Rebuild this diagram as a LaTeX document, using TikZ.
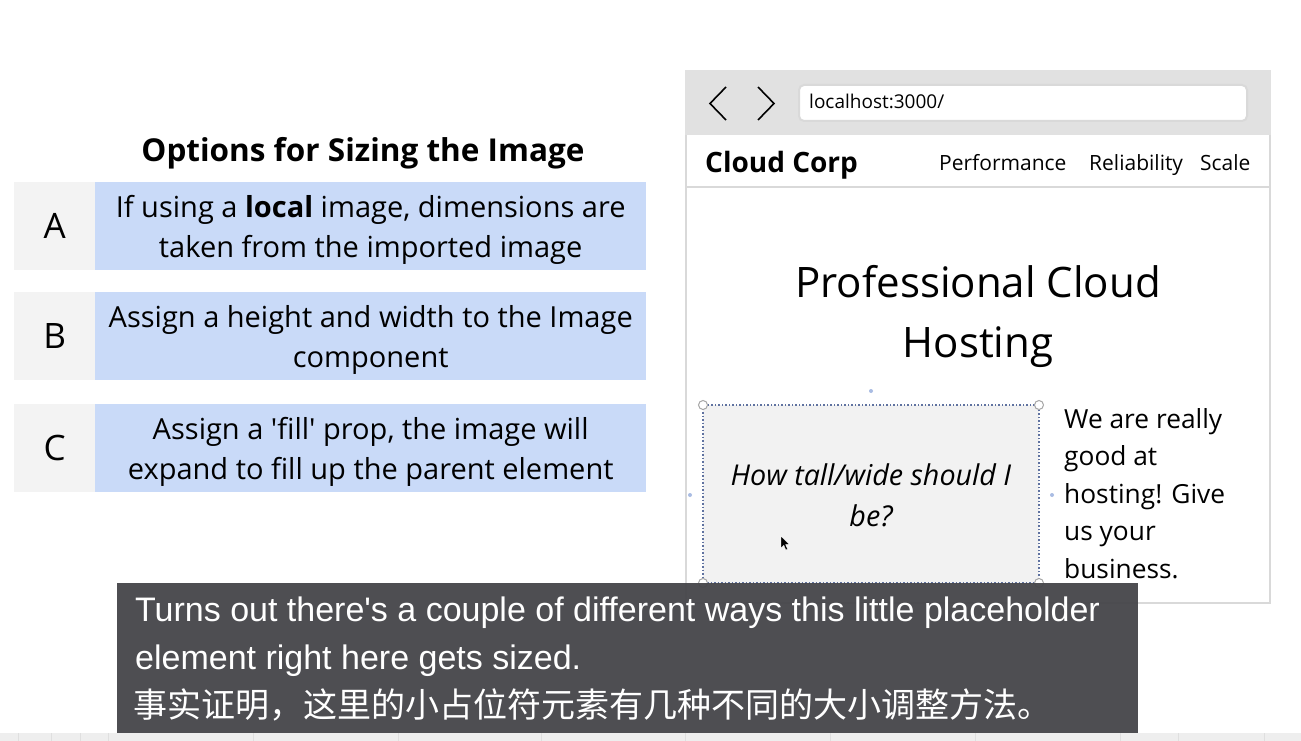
\documentclass[tikz,border=0pt]{standalone}
\usepackage{fontspec}
\setmainfont{Open Sans}
\newfontfamily\subfont{Liberation Sans}
\newfontfamily\cjk{Noto Sans CJK SC}
\definecolor{bluebox}{HTML}{C9DAF8}
\definecolor{graybox}{HTML}{F3F3F3}
\definecolor{barbg}{HTML}{E1E1E1}
\definecolor{framebd}{HTML}{D9D9D9}
\definecolor{phfill}{HTML}{F2F2F2}
\definecolor{phline}{HTML}{5F72A0}
\definecolor{handle}{HTML}{A9BCE3}
\definecolor{subbg}{HTML}{47474B}
\definecolor{strip}{HTML}{EEEEEE}
\begin{document}
\begin{tikzpicture}[x=1pt,y=-1pt,
  lbl/.style={inner sep=0pt, text=black},
  lettercell/.style={fill=graybox, inner sep=0pt, minimum width=81pt, minimum height=88pt, anchor=north west, font=\fontsize{35}{40}\selectfont},
  optcell/.style={fill=bluebox, inner sep=0pt, minimum width=551pt, minimum height=88pt, anchor=north west},
  opttxt/.style={lbl, align=center, font=\fontsize{29}{40}\selectfont},
  navtxt/.style={lbl, anchor=base west, font=\fontsize{21}{25}\selectfont},
  righttxt/.style={lbl, anchor=base west, font=\fontsize{26.3}{30}\selectfont},
  subtxt/.style={inner sep=0pt, text=white, anchor=base west},
  cornerhandle/.style={circle, draw=gray!70, fill=white, line width=1pt, inner sep=0pt, minimum size=9pt},
  dothandle/.style={circle, fill=handle, inner sep=0pt, minimum size=4pt}
]
\useasboundingbox (0,0) rectangle (1301,741);
\fill[white] (0,0) rectangle (1301,741);

% ---------- left: options ----------
\node[lbl, anchor=base, font=\fontsize{31.5}{36}\selectfont\bfseries] (title) at (363,161) {Options for Sizing the Image};

\node[lettercell] (la) at (14,182) {A};
\node[optcell] (oa) at (95,182) {};
\node[opttxt] (ta) at ([yshift=-4pt]oa.center) {If using a \textbf{local} image, dimensions are\\taken from the imported image};
\node[lettercell] (lb) at (14,292) {B};
\node[optcell] (ob) at (95,292) {};
\node[opttxt] (tb) at ([yshift=-4pt]ob.center) {Assign a height and width to the Image\\component};
\node[lettercell] (lc) at (14,404) {C};
\node[optcell] (oc) at (95,404) {};
\node[opttxt] (tc) at ([yshift=-4pt]oc.center) {Assign a \textquotesingle fill\textquotesingle{} prop, the image will\\expand to fill up the parent element};

% ---------- right: browser ----------
\draw[framebd, line width=2pt, fill=white] (686,71) rectangle (1270,603);
\fill[barbg] (685,70) rectangle (1271,135);
\draw[framebd, line width=2pt] (686,187) -- (1270,187);
\draw[black, line width=1.6pt] (726,87) -- (710,103.5) -- (726,120);
\draw[black, line width=1.6pt] (758,87) -- (774,103.5) -- (758,120);
\node[draw=framebd, line width=2pt, fill=white, rounded corners=5pt, minimum width=448pt, minimum height=36pt, anchor=north west, inner sep=0pt] (url) at (798,84) {};
\node[lbl, anchor=base west, font=\fontsize{19}{22}\selectfont] (urltxt) at (809,109) {localhost:3000/};

\node[lbl, anchor=base west, font=\fontsize{28}{32}\selectfont\bfseries] (brand) at (705,172) {Cloud Corp};
\node[navtxt] (perf) at (939,170) {Performance};
\node[navtxt] (rel) at (1089,170) {Reliability};
\node[navtxt] (scale) at (1200,170) {Scale};

\node[lbl, anchor=base, font=\fontsize{42}{50}\selectfont] (h1a) at (978,297) {Professional Cloud};
\node[lbl, anchor=base, font=\fontsize{42}{50}\selectfont] (h1b) at (978,357) {Hosting};

% placeholder
\fill[phfill] (703,405) rectangle (1039,583);
\draw[phline, line width=1.5pt, dotted] (703,405) rectangle (1039,583);
\node[lbl, anchor=base, font=\fontsize{28.7}{32}\selectfont\itshape] (q1) at (871,485) {How tall/wide should I};
\node[lbl, anchor=base, font=\fontsize{28.7}{32}\selectfont\itshape] (q2) at (871,526) {be?};
\node[cornerhandle] (c1) at (703,405) {};
\node[cornerhandle] (c2) at (1039,405) {};
\node[cornerhandle] (c3) at (703,583) {};
\node[cornerhandle] (c4) at (1039,583) {};
\node[dothandle] (d1) at (871,391) {};
\node[dothandle] (d2) at (690,495) {};
\node[dothandle] (d3) at (1052,495) {};
\fill[black, draw=white, line width=0.4pt] (781,536) -- (781,548) -- (783.8,545.3) -- (785.8,550) -- (787.6,549.2) -- (785.6,544.6) -- (789.4,544.6) -- cycle;

\node[righttxt] (r1) at (1064,428) {We are really};
\node[righttxt] (r2) at (1064,465.5) {good at};
\node[righttxt] (r3) at (1064,503) {hosting! Give};
\node[righttxt] (r4) at (1064,540.5) {us your};
\node[righttxt] (r5) at (1064,578) {business.};

% ---------- bottom strip ----------
\fill[strip] (0,733) rectangle (1301,741);
\foreach \xx in {18,51,80,108,253,398,541,685,830,975,1120,1178,1264}
  \draw[gray!25, line width=0.6pt] (\xx,733) -- (\xx,741);

% ---------- subtitle ----------
\fill[subbg, fill opacity=0.96] (117,583) rectangle (1138,733);
\node[subtxt, font=\subfont\fontsize{34}{38}\selectfont] (s1) at (135,621) {Turns out there's a couple of different ways this little placeholder};
\node[subtxt, font=\subfont\fontsize{34}{38}\selectfont] (s2) at (135,669) {element right here gets sized.};
\node[subtxt, font=\cjk\fontsize{34}{40}\selectfont] (s3) at (133,717) {事实证明，这里的小占位符元素有几种不同的大小调整方法。};
\end{tikzpicture}
\end{document}
